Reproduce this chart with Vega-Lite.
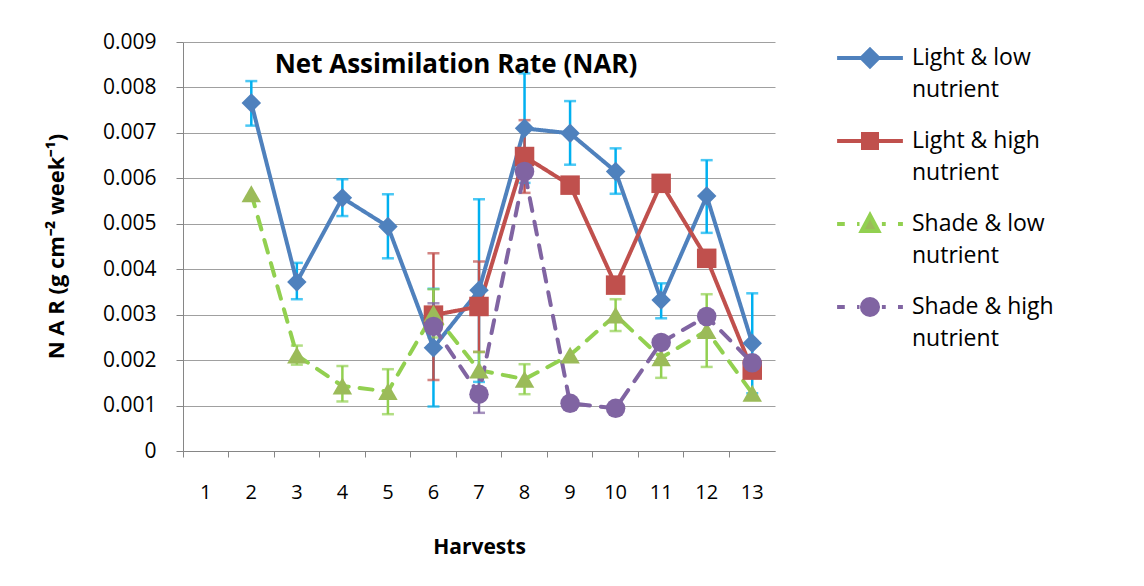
{
  "$schema": "https://vega.github.io/schema/vega-lite/v6.json",
  "width": 592,
  "height": 409,
  "autosize": "none",
  "padding": {"left": 183, "top": 42, "right": 369, "bottom": 135},
  "background": "white",
  "config": {"font": "Open Sans", "view": {"stroke": null}, "style": {"guide-label": {"lineHeight": 32}}},
  "title": {"text": "Net Assimilation Rate (NAR)", "fontSize": 26, "fontWeight": "bold", "color": "black", "anchor": "middle", "dx": -23, "offset": -57, "font": "Open Sans"},
  "data": {"values": [
    {"harvest": 2, "series": "Light & low nutrient", "nar": 0.00766, "lo": 0.00716, "hi": 0.00814},
    {"harvest": 3, "series": "Light & low nutrient", "nar": 0.00372, "lo": 0.00334, "hi": 0.00414},
    {"harvest": 4, "series": "Light & low nutrient", "nar": 0.00557, "lo": 0.00517, "hi": 0.00598},
    {"harvest": 5, "series": "Light & low nutrient", "nar": 0.00494, "lo": 0.00424, "hi": 0.00565},
    {"harvest": 6, "series": "Light & low nutrient", "nar": 0.00227, "lo": 0.00098, "hi": 0.00357},
    {"harvest": 7, "series": "Light & low nutrient", "nar": 0.00354, "lo": 0.00152, "hi": 0.00554},
    {"harvest": 8, "series": "Light & low nutrient", "nar": 0.00710, "lo": 0.00590, "hi": 0.00831},
    {"harvest": 9, "series": "Light & low nutrient", "nar": 0.00699, "lo": 0.00630, "hi": 0.00770},
    {"harvest": 10, "series": "Light & low nutrient", "nar": 0.00615, "lo": 0.00566, "hi": 0.00666},
    {"harvest": 11, "series": "Light & low nutrient", "nar": 0.00332, "lo": 0.00292, "hi": 0.00369},
    {"harvest": 12, "series": "Light & low nutrient", "nar": 0.00561, "lo": 0.00480, "hi": 0.00640},
    {"harvest": 13, "series": "Light & low nutrient", "nar": 0.00237, "lo": 0.00127, "hi": 0.00347},
    {"harvest": 6, "series": "Light & high nutrient", "nar": 0.00299, "lo": 0.00156, "hi": 0.00435},
    {"harvest": 7, "series": "Light & high nutrient", "nar": 0.00318, "lo": 0.00218, "hi": 0.00417},
    {"harvest": 8, "series": "Light & high nutrient", "nar": 0.00648, "lo": 0.00568, "hi": 0.00728},
    {"harvest": 9, "series": "Light & high nutrient", "nar": 0.00585},
    {"harvest": 10, "series": "Light & high nutrient", "nar": 0.00365},
    {"harvest": 11, "series": "Light & high nutrient", "nar": 0.00589},
    {"harvest": 12, "series": "Light & high nutrient", "nar": 0.00424},
    {"harvest": 13, "series": "Light & high nutrient", "nar": 0.00178},
    {"harvest": 2, "series": "Shade & low nutrient", "nar": 0.00566},
    {"harvest": 3, "series": "Shade & low nutrient", "nar": 0.00211, "lo": 0.00190, "hi": 0.00232},
    {"harvest": 4, "series": "Shade & low nutrient", "nar": 0.00143, "lo": 0.00109, "hi": 0.00187},
    {"harvest": 5, "series": "Shade & low nutrient", "nar": 0.00131, "lo": 0.00081, "hi": 0.00180},
    {"harvest": 6, "series": "Shade & low nutrient", "nar": 0.00303, "lo": 0.00250, "hi": 0.00356},
    {"harvest": 7, "series": "Shade & low nutrient", "nar": 0.00178, "lo": 0.00138, "hi": 0.00218},
    {"harvest": 8, "series": "Shade & low nutrient", "nar": 0.00158, "lo": 0.00125, "hi": 0.00191},
    {"harvest": 9, "series": "Shade & low nutrient", "nar": 0.00211},
    {"harvest": 10, "series": "Shade & low nutrient", "nar": 0.00299, "lo": 0.00264, "hi": 0.00334},
    {"harvest": 11, "series": "Shade & low nutrient", "nar": 0.00205, "lo": 0.00161, "hi": 0.00249},
    {"harvest": 12, "series": "Shade & low nutrient", "nar": 0.00265, "lo": 0.00185, "hi": 0.00345},
    {"harvest": 13, "series": "Shade & low nutrient", "nar": 0.00127},
    {"harvest": 6, "series": "Shade & high nutrient", "nar": 0.00274, "lo": 0.00223, "hi": 0.00325},
    {"harvest": 7, "series": "Shade & high nutrient", "nar": 0.00125, "lo": 0.00084, "hi": 0.00166},
    {"harvest": 8, "series": "Shade & high nutrient", "nar": 0.00615},
    {"harvest": 9, "series": "Shade & high nutrient", "nar": 0.00105},
    {"harvest": 10, "series": "Shade & high nutrient", "nar": 0.00094},
    {"harvest": 11, "series": "Shade & high nutrient", "nar": 0.00239},
    {"harvest": 12, "series": "Shade & high nutrient", "nar": 0.00296},
    {"harvest": 13, "series": "Shade & high nutrient", "nar": 0.00194}
  ]},
  "encoding": {
    "x": {
      "field": "harvest", "type": "ordinal",
      "scale": {"type": "band", "domain": [1,2,3,4,5,6,7,8,9,10,11,12,13], "paddingInner": 0, "paddingOuter": 0},
      "axis": {
        "bandPosition": 0, "labelAngle": 0,
        "domainColor": "#868686", "domainWidth": 1, "tickColor": "#868686", "tickSize": 6, "tickWidth": 1,
        "labelFontSize": 20, "labelColor": "black", "labelPadding": 25, "labelFont": "Open Sans",
        "title": "Harvests", "titleFontSize": 21, "titleFontWeight": "bold", "titleColor": "black", "titleFont": "Open Sans",
        "titleY": 96, "titleBaseline": "middle", "grid": false
      }
    },
    "y": {
      "field": "nar", "type": "quantitative",
      "scale": {"domain": [0, 0.009], "nice": false, "zero": true},
      "axis": {
        "values": [0, 0.001, 0.002, 0.003, 0.004, 0.005, 0.006, 0.007, 0.008, 0.009],
        "labelExpr": "datum.value == 0 ? '0' : format(datum.value, '.3f')",
        "labelFontSize": 21, "labelColor": "black", "labelPadding": 20, "labelFont": "Open Sans",
        "domainColor": "#868686", "tickColor": "#868686", "tickSize": 7,
        "grid": true, "gridColor": "#a0a0a0", "gridWidth": 1,
        "title": "N A R (g cm⁻² week⁻¹)", "titleFontSize": 22, "titleFontWeight": "bold", "titleColor": "black", "titleFont": "Open Sans",
        "titleX": -127, "titleY": 204, "titleAngle": 270, "titleAlign": "center", "titleBaseline": "middle"
      }
    }
  },
  "resolve": {"scale": {"shape": "independent", "color": "independent", "stroke": "independent"}},
  "layer": [
    {
      "transform": [{"filter": "isValid(datum.lo)"}],
      "encoding": {
        "color": {
          "condition": [
            {"test": "datum.series === 'Light & low nutrient'", "value": "#00B0F0"},
            {"test": "datum.series === 'Light & high nutrient'", "value": "#C0504D"},
            {"test": "datum.series === 'Shade & low nutrient'", "value": "#92D050"}
          ],
          "value": "#8064A2"
        }
      },
      "layer": [
        {"mark": {"type": "rule", "strokeWidth": 2.5}, "encoding": {"y": {"field": "lo", "type": "quantitative"}, "y2": {"field": "hi"}}},
        {"mark": {"type": "tick", "size": 12, "thickness": 2.5}, "encoding": {"y": {"field": "lo", "type": "quantitative"}}},
        {"mark": {"type": "tick", "size": 12, "thickness": 2.5}, "encoding": {"y": {"field": "hi", "type": "quantitative"}}}
      ]
    },
    {
      "mark": {"type": "line", "strokeWidth": 4, "strokeCap": "round", "strokeJoin": "round"},
      "encoding": {
        "detail": {"field": "series", "type": "nominal"},
        "color": {
          "condition": [
            {"test": "datum.series === 'Light & low nutrient'", "value": "#4F81BD"},
            {"test": "datum.series === 'Light & high nutrient'", "value": "#C0504D"},
            {"test": "datum.series === 'Shade & low nutrient'", "value": "#92D050"}
          ],
          "value": "#8064A2"
        },
        "strokeDash": {
          "condition": {"test": "indexof(datum.series, 'Shade') === 0", "value": [13, 11]},
          "value": [1, 0]
        }
      }
    },
    {
      "mark": {"type": "point", "filled": true, "opacity": 1, "size": 380},
      "encoding": {
        "shape": {"field": "series", "type": "nominal", "legend": null,
          "scale": {"domain": ["Light & low nutrient", "Light & high nutrient", "Shade & low nutrient", "Shade & high nutrient"], "range": ["diamond", "square", "triangle-up", "circle"]}},
        "color": {
          "condition": [
            {"test": "datum.series === 'Light & low nutrient'", "value": "#4F81BD"},
            {"test": "datum.series === 'Light & high nutrient'", "value": "#C0504D"},
            {"test": "datum.series === 'Shade & low nutrient'", "value": "#9BBB59"}
          ],
          "value": "#8064A2"
        }
      }
    },
    {
      "transform": [{"filter": "false"}],
      "mark": {"type": "point", "filled": true, "opacity": 1},
      "encoding": {
        "shape": {"field": "series", "type": "nominal",
          "scale": {"domain": ["Light & low nutrient", "Light & high nutrient", "Shade & low nutrient", "Shade & high nutrient"],
            "range": [
              "M-0.94,0H0.94M0,-0.24L0.24,0L0,0.24L-0.24,0Z",
              "M-0.94,0H0.94M-0.2,-0.2H0.2V0.2H-0.2Z",
              "M-0.94,0H-0.72M-0.37,0H-0.3M0.34,0H0.45M0.8,0H0.94M0,-0.25L0.24,0.2L-0.24,0.2Z",
              "M-0.94,0H-0.72M-0.37,0H-0.3M0.34,0H0.45M0.8,0H0.94M-0.23,0A0.23,0.23,0,1,0,0.23,0A0.23,0.23,0,1,0,-0.23,0Z"
            ]},
          "legend": {
            "title": null, "orient": "none", "legendX": 650, "legendY": -21,
            "labelFontSize": 23, "labelColor": "black", "labelFont": "Open Sans", "labelLimit": 300, "labelOffset": 5,
            "symbolSize": 4900, "symbolStrokeWidth": 4, "rowPadding": 2,
            "labelExpr": "[replace(datum.label, ' nutrient', ''), 'nutrient']"
          }
        },
        "color": {"field": "series", "type": "nominal",
          "scale": {"domain": ["Light & low nutrient", "Light & high nutrient", "Shade & low nutrient", "Shade & high nutrient"], "range": ["#4F81BD", "#C0504D", "#9BBB59", "#8064A2"]},
          "legend": {
            "title": null, "orient": "none", "legendX": 650, "legendY": -21,
            "labelFontSize": 23, "labelColor": "black", "labelFont": "Open Sans", "labelLimit": 300, "labelOffset": 5,
            "symbolSize": 4900, "symbolStrokeWidth": 4, "rowPadding": 2,
            "labelExpr": "[replace(datum.label, ' nutrient', ''), 'nutrient']"
          }
        },
        "stroke": {"field": "series", "type": "nominal",
          "scale": {"domain": ["Light & low nutrient", "Light & high nutrient", "Shade & low nutrient", "Shade & high nutrient"], "range": ["#4F81BD", "#C0504D", "#92D050", "#8064A2"]},
          "legend": {
            "title": null, "orient": "none", "legendX": 650, "legendY": -21,
            "labelFontSize": 23, "labelColor": "black", "labelFont": "Open Sans", "labelLimit": 300, "labelOffset": 5,
            "symbolSize": 4900, "symbolStrokeWidth": 4, "rowPadding": 2,
            "labelExpr": "[replace(datum.label, ' nutrient', ''), 'nutrient']"
          }
        }
      }
    }
  ]
}
